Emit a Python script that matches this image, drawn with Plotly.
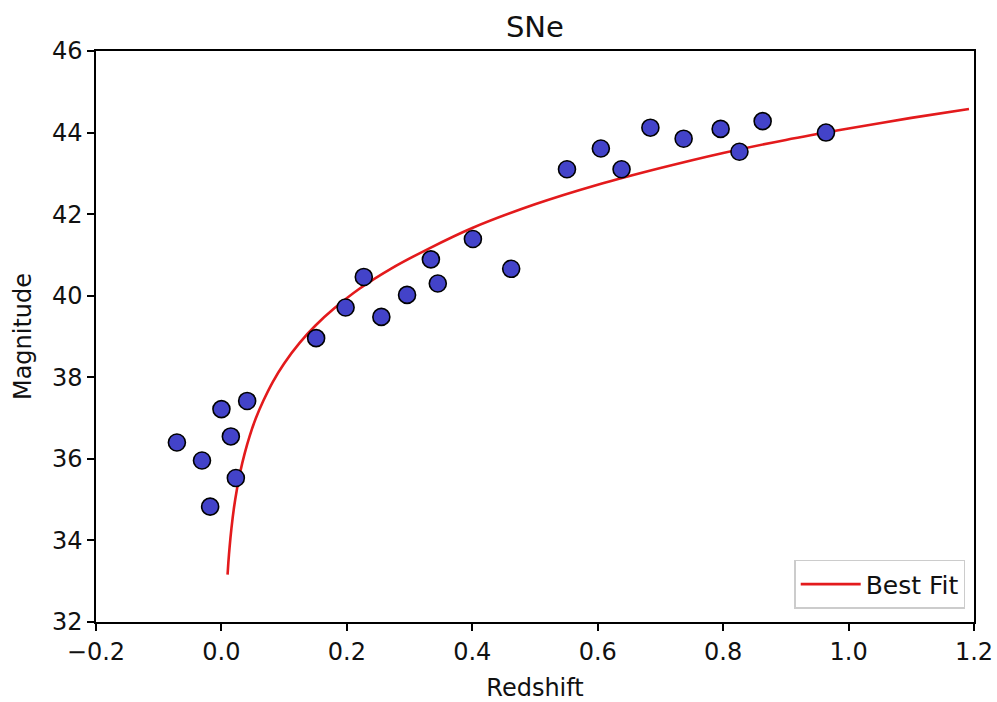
import plotly.graph_objects as go

redshift = [-0.071, -0.031, -0.018, 0.000, 0.015, 0.023, 0.041, 0.151, 0.198, 0.227,
            0.255, 0.296, 0.334, 0.345, 0.401, 0.462, 0.551, 0.605, 0.638, 0.684,
            0.737, 0.796, 0.826, 0.863, 0.964]
magnitude = [36.40, 35.96, 34.83, 37.22, 36.55, 35.53, 37.42, 38.96, 39.71, 40.46,
             39.48, 40.02, 40.89, 40.30, 41.39, 40.66, 43.10, 43.61, 43.10, 44.12,
             43.85, 44.09, 43.53, 44.28, 44.00]

# Best-fit curve, points
fit_z = [0.0098, 0.011, 0.013, 0.016, 0.020, 0.025, 0.030, 0.037, 0.045, 0.055,
         0.067, 0.082, 0.10, 0.125, 0.15, 0.18, 0.22, 0.27, 0.33, 0.40,
         0.50, 0.60, 0.70, 0.80, 0.90, 1.00, 1.10, 1.192]
fit_m = [33.16, 33.45, 33.83, 34.30, 34.80, 35.28, 35.68, 36.13, 36.56, 37.00,
         37.43, 37.89, 38.34, 38.85, 39.27, 39.69, 40.17, 40.66, 41.15, 41.66,
         42.24, 42.72, 43.13, 43.50, 43.82, 44.10, 44.36, 44.58]

x_ticks = [-0.2, 0.0, 0.2, 0.4, 0.6, 0.8, 1.0, 1.2]
y_ticks = [32, 34, 36, 38, 40, 42, 44, 46]

FONT = "DejaVu Sans"
INK = "#111111"

fig = go.Figure()
fig.add_trace(go.Scatter(
    x=fit_z, y=fit_m, mode="lines", name="Best Fit",
    line=dict(color="#e31a1c", width=2.6, shape="spline", smoothing=0.8),
))
fig.add_trace(go.Scatter(
    x=redshift, y=magnitude, mode="markers", name="SNe", showlegend=False,
    marker=dict(size=17, color="#4343c9", line=dict(color="black", width=1.6)),
))

axis_common = dict(
    showline=True, mirror=True, linecolor="black", linewidth=1.5,
    ticks="outside", ticklen=7, tickwidth=1.5, tickcolor="black",
    showgrid=False, zeroline=False, automargin=False,
    tickfont=dict(family=FONT, size=24, color=INK),
)

fig.update_layout(
    width=997, height=702,
    margin=dict(l=96, r=23, t=51, b=80, autoexpand=False),
    paper_bgcolor="white", plot_bgcolor="white",
    title=dict(text="SNe", x=0.5365, xanchor="center", y=0.962, yanchor="middle",
               font=dict(family=FONT, size=29, color=INK)),
    xaxis=dict(range=[-0.2, 1.2], tickvals=x_ticks, tickformat=".1f",
               title=dict(text="Redshift", font=dict(family=FONT, size=24, color=INK),
                          standoff=16),
               **axis_common),
    yaxis=dict(range=[32, 46], tickvals=y_ticks,
               title=dict(text="Magnitude", font=dict(family=FONT, size=24, color=INK),
                          standoff=14),
               **axis_common),
    legend=dict(x=0.99, y=0.023, xanchor="right", yanchor="bottom",
                bgcolor="white", bordercolor="#cccccc", borderwidth=1.5,
                itemwidth=60, entrywidth=190,
                font=dict(family=FONT, size=25, color=INK)),
    showlegend=True,
)

fig.write_html("out.html")
